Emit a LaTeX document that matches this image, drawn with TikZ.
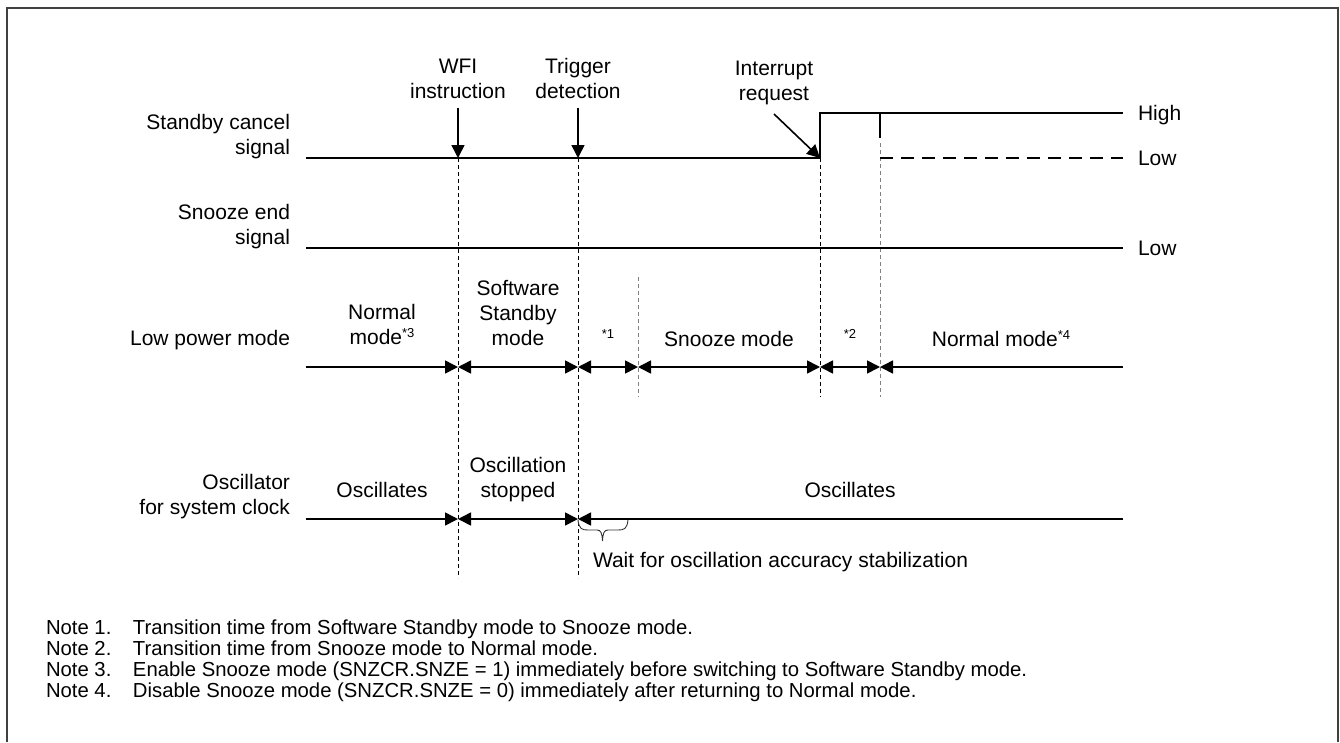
\documentclass[tikz,border=0pt]{standalone}
\usepackage{fontspec}
\setmainfont{Liberation Sans}
\usetikzlibrary{arrows.meta}
\newcommand\mysup[1]{\raisebox{7pt}{\fontsize{13}{13}\selectfont #1}}
\begin{document}
\begin{tikzpicture}[x=1pt,y=-1pt,
  every node/.style={inner sep=0pt,outer sep=0pt,font=\fontsize{21}{25}\selectfont},
  sig/.style={line width=1.6pt,black},
  tipend/.style={sig,-{Triangle[length=13pt,width=13pt]}},
  tipboth/.style={sig,{Triangle[length=13pt,width=13pt]}-{Triangle[length=13pt,width=13pt]}},
  guide/.style={line width=0.9pt,black,dash pattern=on 4pt off 3pt},
  gguide/.style={line width=0.9pt,black!50,dash pattern=on 4pt off 3pt},
  lowdash/.style={line width=1.6pt,black,dash pattern=on 13pt off 8pt},
  lbl/.style={anchor=base,align=center},
  rowlbl/.style={anchor=base east,align=right},
  lvl/.style={anchor=base west}
]
\useasboundingbox (0,0) rectangle (1340,742);
% frame
\draw[line width=2pt,black!75] (7,742) -- (7,7.5) -- (1338,7.5) -- (1338,742);

% row labels (base = last line)
\node[rowlbl] (lsc) at (290,154) {Standby cancel\\signal};
\node[rowlbl] (lse) at (290,244) {Snooze end\\signal};
\node[rowlbl] (llp) at (290,345) {Low power mode};
\node[rowlbl] (los) at (290,514) {Oscillator\\for system clock};

% event labels
\node[lbl] (wfi) at (458,98.5) {WFI\\instruction};
\node[lbl] (trg) at (578,98.5) {Trigger\\detection};
\node[lbl] (irq) at (774,100) {Interrupt\\request};

% coordinates
\coordinate (s0) at (306,158);
\coordinate (sI) at (820,158);
\coordinate (sIH) at (820,113);
\coordinate (sE) at (1123,113);
\coordinate (sD) at (880,113);
\coordinate (sDm) at (880,138);
\coordinate (sDL) at (880,158);
\coordinate (sEL) at (1123,158);
\coordinate (sW) at (458,158);
\coordinate (sT) at (578,158);
\coordinate (irqS) at (774,114);
\coordinate (e0) at (306,248);
\coordinate (eE) at (1123,248);
\coordinate (m0) at (306,367);
\coordinate (mW) at (458,367);
\coordinate (mT) at (578,367);
\coordinate (mG) at (638,367);
\coordinate (mI) at (820,367);
\coordinate (mD) at (880,367);
\coordinate (mE) at (1123,367);
\coordinate (o0) at (306,519);
\coordinate (oW) at (458,519);
\coordinate (oT) at (578,519);
\coordinate (oE) at (1123,519);

% guides
\draw[guide] (sW) -- (458,578);
\draw[guide] (sT) -- (578,578);
\draw[guide] (sI) -- (820,397);
\draw[gguide] (638,277) -- (638,397);
\draw[gguide] (880,143) -- (880,397);

% standby cancel signal
\draw[sig] (s0) -- (sI) -- (sIH) -- (sE);
\draw[sig] (sD) -- (sDm);
\draw[lowdash] (sDL) -- (sEL);
\node[lvl] (hi) at (1138,120.5) {High};
\node[lvl] (lo1) at (1138,165.5) {Low};

% event arrows
\draw[tipend] ([yshift=-9pt]wfi.south) -- (sW);
\draw[tipend] ([yshift=-9pt]trg.south) -- (sT);
\draw[tipend] (irqS) -- (sI);

% snooze end signal
\draw[sig] (e0) -- (eE);
\node[lvl] (lo2) at (1138,255.5) {Low};

% low power mode
\draw[tipend] (m0) -- (mW);
\draw[tipboth] (mW) -- (mT);
\draw[tipboth] (mT) -- (mG);
\draw[tipboth] (mG) -- (mI);
\draw[tipboth] (mI) -- (mD);
\draw[tipend] (mE) -- (mD);
\node[lbl] (nm3) at (382,344) {Normal\\mode\mysup{*3}};
\node[lbl] (ssm) at (518,345) {Software\\Standby\\mode};
\node[lbl] (n1) at (608,345) {\mysup{*1}};
\node[lbl] (snz) at (729,346) {Snooze mode};
\node[lbl] (n2) at (850,345) {\mysup{*2}};
\node[lbl] (nm4) at (1001,346) {Normal mode\mysup{*4}};

% oscillator
\draw[tipend] (o0) -- (oW);
\draw[tipboth] (oW) -- (oT);
\draw[tipend] (oE) -- (oT);
\node[lbl] (osc1) at (382,497) {Oscillates};
\node[lbl] (osst) at (518,497) {Oscillation\\stopped};
\node[lbl] (osc2) at (850,497) {Oscillates};

% brace
\draw[line width=0.9pt,black!80] (578,520) .. controls (579,529) and (582,530) .. (588,530)
  -- (597,530) .. controls (601,530) and (602,533) .. (602.5,541)
  .. controls (603,533) and (604,530) .. (608,530)
  -- (618,530) .. controls (624,530) and (627,529) .. (628,520);
\node[lvl] (wait) at (593,567.5) {Wait for oscillation accuracy stabilization};

% notes
\node[anchor=base west,align=left,font=\fontsize{20.3}{21}\selectfont] (notes) at (46,697.5)
 {\makebox[87pt][l]{Note 1.}Transition time from Software Standby mode to Snooze mode.\\
  \makebox[87pt][l]{Note 2.}Transition time from Snooze mode to Normal mode.\\
  \makebox[87pt][l]{Note 3.}Enable Snooze mode (SNZCR.SNZE = 1) immediately before switching to Software Standby mode.\\
  \makebox[87pt][l]{Note 4.}Disable Snooze mode (SNZCR.SNZE = 0) immediately after returning to Normal mode.};
\end{tikzpicture}
\end{document}
